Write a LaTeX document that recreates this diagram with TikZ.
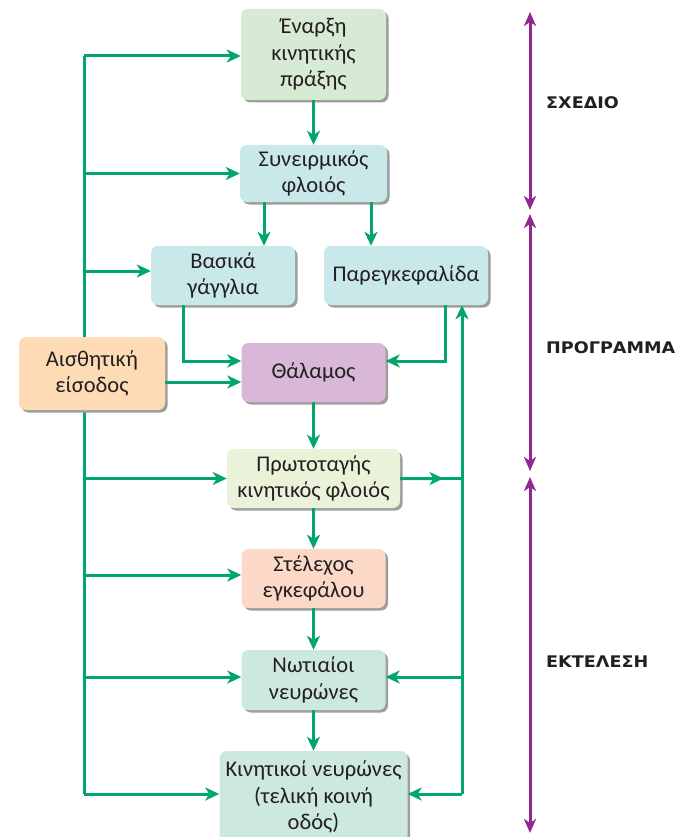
\documentclass[tikz,border=0pt]{standalone}
\usepackage{fontspec}
\setmainfont{Carlito}
\newfontfamily\labfont[FakeStretch=1.1]{DejaVu Sans}
\usetikzlibrary{arrows.meta,shadows,calc}
\definecolor{grn}{RGB}{0,166,106}
\definecolor{prp}{RGB}{146,39,143}
\definecolor{txt}{RGB}{35,31,32}
\definecolor{cEn}{RGB}{215,234,211}
\definecolor{cCy}{RGB}{201,232,234}
\definecolor{cAis}{RGB}{253,220,181}
\definecolor{cTh}{RGB}{217,183,216}
\definecolor{cPr}{RGB}{234,243,217}
\definecolor{cSt}{RGB}{251,217,198}
\definecolor{cMi}{RGB}{205,232,220}
\begin{document}
\begin{tikzpicture}[x=1pt,y=-1pt,
  box/.style={rounded corners=7pt, align=center, text=txt, inner sep=0pt,
    font=\fontsize{22.5}{26.5}\selectfont,
    drop shadow={shadow xshift=2.5pt, shadow yshift=-2.5pt, fill=black!38, opacity=1}},
  arr/.style={draw=grn, line width=3pt, -{Stealth[length=14pt,width=13pt,inset=4pt]}},
  ln/.style={draw=grn, line width=3pt},
  parr/.style={draw=prp, line width=3pt, {Stealth[length=14pt,width=12pt,inset=4pt]}-{Stealth[length=14pt,width=12pt,inset=4pt]}},
  lab/.style={anchor=west, text=txt, font=\labfont\bfseries\fontsize{16}{19}\selectfont, inner sep=0pt}]
\useasboundingbox (0,0) rectangle (684,837);
% left trunk (behind boxes)
\coordinate (lt) at (84,56);
\coordinate (lb) at (84,794);
\draw[ln] (lt) -- (lb);
% nodes
\node[box, fill=cEn, minimum width=145pt, minimum height=91pt] (enarxi) at (313.5,54.5) {Έναρξη\\κινητικής\\πράξης};
\node[box, fill=cCy, minimum width=147pt, minimum height=57pt] (syn) at (313.5,173.5) {Συνειρμικός\\φλοιός};
\node[box, fill=cCy, minimum width=144pt, minimum height=59pt] (vas) at (223,275.5) {Βασικά\\γάγγλια};
\node[box, fill=cCy, minimum width=164pt, minimum height=59pt] (par) at (406,275.5) {Παρεγκεφαλίδα};
\node[box, fill=cAis, minimum width=146pt, minimum height=73pt] (ais) at (92,373.5) {Αισθητική\\είσοδος};
\node[box, fill=cTh, minimum width=144pt, minimum height=59pt] (thal) at (313.5,372.5) {Θάλαμος};
\node[box, fill=cPr, minimum width=173pt, minimum height=59pt] (prot) at (313.5,478.5) {Πρωτοταγής\\κινητικός φλοιός};
\node[box, fill=cSt, minimum width=144pt, minimum height=59pt] (stel) at (313.5,578.5) {Στέλεχος\\εγκεφάλου};
\node[box, fill=cMi, minimum width=144pt, minimum height=60pt] (not) at (313.5,680) {Νωτιαίοι\\νευρώνες};
\node[box, fill=cMi, minimum width=188pt, minimum height=92pt] (kin) at (313.5,797) {Κινητικοί νευρώνες\\(τελική κοινή\\οδός)};
% left branches
\draw[arr] (lt) -- (lt -| enarxi.west);
\draw[arr] (lt |- syn.west) -- (syn.west);
\coordinate (bv) at ([yshift=4.5pt]vas.west);
\draw[arr] (lt |- bv) -- (bv);
\draw[arr] (lt |- prot.west) -- (prot.west);
\coordinate (bs) at ([yshift=3.5pt]stel.west);
\draw[arr] (lt |- bs) -- (bs);
\coordinate (bn) at ([yshift=3pt]not.west);
\draw[arr] (lt |- bn) -- (bn);
\draw[arr] (lb) -- (lb -| kin.west);
% vertical chain
\draw[arr] (enarxi.south) -- (enarxi.south |- syn.north);
\coordinate (s1) at ([xshift=-49.5pt]syn.south);
\coordinate (s2) at ([xshift=57.5pt]syn.south);
\draw[arr] (s1) -- (s1 |- vas.north);
\draw[arr] (s2) -- (s2 |- par.north);
\draw[arr] (thal.south) -- (thal.south |- prot.north);
\draw[arr] (prot.south) -- (prot.south |- stel.north);
\draw[arr] (stel.south) -- (stel.south |- not.north);
\draw[arr] (not.south) -- (not.south |- kin.north);
% into thalamus
\coordinate (vb) at ([xshift=-40pt]vas.south);
\coordinate (pb) at ([xshift=39pt]par.south);
\coordinate (tw) at ([yshift=11.5pt]thal.west);
\coordinate (te) at ([yshift=11.5pt]thal.east);
\coordinate (ta) at ([yshift=-9.5pt]thal.west);
\draw[arr] (vb) |- (tw);
\draw[arr] (pb) |- (te);
\draw[arr] (ais.east |- ta) -- (ta);
% right trunk
\coordinate (rb) at (462,794);
\coordinate (rj) at (rb |- prot.east);
\draw[arr] (rb) -- (rb |- par.south);
\draw[ln] (prot.east) -- (rj);
\draw[arr] (prot.east) -- ($(prot.east)!0.7!(rj)$);
\coordinate (rn) at (rb |- bn);
\draw[arr] (rn) -- (bn -| not.east);
\draw[arr] (rb) -- (rb -| kin.east);
% phases
\coordinate (p1) at (530,12);
\coordinate (p2) at (530,210);
\coordinate (p3) at (530,214);
\coordinate (p4) at (530,471);
\coordinate (p5) at (530,477);
\coordinate (p6) at (530,833);
\draw[parr] (p1) -- (p2);
\draw[parr] (p3) -- (p4);
\draw[parr] (p5) -- (p6);
\node[lab] (l1) at (546,103) {ΣΧΕΔΙΟ};
\node[lab] (l2) at (546,348) {ΠΡΟΓΡΑΜΜΑ};
\node[lab] (l3) at (546,662) {ΕΚΤΕΛΕΣΗ};
\end{tikzpicture}
\end{document}
